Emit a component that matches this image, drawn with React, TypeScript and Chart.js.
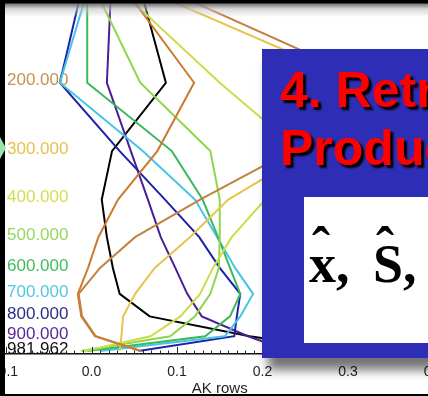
import React, { useEffect, useRef } from "react";
import { Chart, registerables } from "chart.js";

Chart.register(...registerables);

// Pressure levels (hPa) at which each averaging-kernel row is given
const levels = [100, 200, 300, 400, 500, 600, 700, 800, 900, 981.962];
// Labelled levels on the y axis and their colours
const tickLevels = [200, 300, 400, 500, 600, 700, 800, 900, 981.962];
const tickColors = ["#c8904c", "#e4c24a", "#d4dc52", "#92d862", "#3fbf5c", "#55c6e2", "#2b2b8c", "#5a2a98", "#111111"];
const xTicks = [-0.1, 0.0, 0.1, 0.2, 0.3, 0.4];

// AK rows (values at each level above)
const ak100 = [0.025, 0.33, 0.233, 0.127, 0.051, 0.01, -0.015, -0.011, 0.005, 0.058];
const ak200 = [0.019, 0.12, 0.077, 0.031, 0.008, -0.004, -0.016, -0.012, 0.004, 0.057];
const ak300 = [-0.002, 0.314, 0.255, 0.16, 0.115, 0.074, 0.051, 0.037, 0.035, 0.033];
const ak400 = [0.003, 0.15, 0.244, 0.203, 0.164, 0.142, 0.127, 0.104, 0.069, -0.008];
const ak500 = [-0.009, 0.057, 0.139, 0.15, 0.15, 0.149, 0.139, 0.121, 0.092, -0.012];
const ak600 = [-0.005, -0.005, 0.094, 0.13, 0.148, 0.162, 0.174, 0.162, 0.133, -0.005];
const ak700 = [0.004, -0.037, 0.06, 0.121, 0.147, 0.168, 0.189, 0.174, 0.156, 0.01];
const ak800 = [-0.005, -0.037, 0.033, 0.086, 0.126, 0.15, 0.174, 0.17, 0.167, 0.055];
const ak900 = [0.024, 0.018, 0.046, 0.066, 0.081, 0.098, 0.112, 0.129, 0.183, 0.232];
const akSfc = [0.05, 0.087, 0.024, 0.012, 0.018, 0.025, 0.033, 0.068, 0.185, 0.302];

const seriesRows = [ak100, ak300, ak200, ak400, ak500, ak600, ak700, ak800, ak900, akSfc];
const seriesColors = ["#c48040", "#e8c44a", "#cc7a30", "#cfdc48", "#8ed64a", "#3cb85a", "#45c4e6", "#1e22a6", "#4a1f96", "#000000"];

const SANS = "'Liberation Sans', Arial, Helvetica, sans-serif";
const SERIF = "'Liberation Serif', 'Times New Roman', serif";

const innerTicks = {
  id: "innerTicks",
  afterDatasetsDraw(chart: any) {
    const xs = chart.scales.x;
    const ctx = chart.ctx;
    const bottom = chart.chartArea.bottom;
    ctx.save();
    ctx.strokeStyle = "#222";
    ctx.lineWidth = 1;
    for (let i = -10; i <= 40; i++) {
      const px = Math.round(xs.getPixelForValue(i / 100)) + 0.5;
      const len = i % 10 === 0 ? 7 : 3.5;
      ctx.beginPath();
      ctx.moveTo(px, bottom);
      ctx.lineTo(px, bottom - len);
      ctx.stroke();
    }
    ctx.restore();
  },
};

export default function App() {
  const ref = useRef<HTMLCanvasElement | null>(null);

  useEffect(() => {
    if (!ref.current) return;
    const chart = new Chart(ref.current, {
      type: "line",
      data: {
        datasets: seriesRows.map((row, i) => ({
          data: row.map((v, j) => ({ x: v, y: levels[j] })),
          borderColor: seriesColors[i],
          backgroundColor: seriesColors[i],
          borderWidth: 2,
          pointRadius: 0,
          tension: 0,
          fill: false,
        })),
      },
      options: {
        animation: false,
        responsive: true,
        maintainAspectRatio: false,
        layout: { padding: { left: 6, right: 6.5, top: 0, bottom: 0 } },
        plugins: { legend: { display: false }, tooltip: { enabled: false } },
        scales: {
          x: {
            type: "linear",
            min: -0.1,
            max: 0.4,
            afterBuildTicks: (s: any) => {
              s.ticks = xTicks.map((v) => ({ value: v }));
            },
            afterFit: (s: any) => {
              s.height = 42;
              s.paddingLeft = 0;
              s.paddingRight = 0;
            },
            grid: { display: false, drawTicks: false },
            border: { display: true, color: "#111", width: 1.5 },
            ticks: {
              padding: 10,
              autoSkip: false,
              maxRotation: 0,
              color: "#222",
              font: { family: SANS, size: 14 },
              callback: (v: any) => Number(v).toFixed(1),
            },
            title: {
              display: true,
              text: "AK rows",
              color: "#222",
              font: { family: SANS, size: 15 },
              padding: { top: 0, bottom: -2 },
            },
          },
          y: {
            type: "logarithmic",
            reverse: true,
            min: 122.4,
            max: 1000,
            afterBuildTicks: (s: any) => {
              s.ticks = tickLevels.map((v) => ({ value: v }));
            },
            afterFit: (s: any) => {
              s.width = 0;
              s.paddingTop = 0;
              s.paddingBottom = 0;
            },
            grid: { display: false, drawTicks: false },
            border: { display: false },
            ticks: {
              mirror: true,
              padding: 1,
              labelOffset: -2,
              autoSkip: false,
              font: { family: SANS, size: 17 },
              color: (c: any) => tickColors[c.index] || "#111",
              callback: (v: any) => Number(v).toFixed(3),
            },
          },
        },
      },
      plugins: [innerTicks],
    } as any);
    return () => chart.destroy();
  }, []);

  return (
    <div style={{ position: "absolute", left: 0, top: 0, width: 428, height: 396, overflow: "hidden", background: "#fff" }}>
      <div style={{ position: "absolute", left: 0, top: 0, width: 440, height: 396 }}>
        <canvas ref={ref} />
      </div>
      {/* top black band with soft grey fade */}
      <div
        style={{
          position: "absolute", left: 0, top: 0, width: 428, height: 17,
          background: "linear-gradient(to bottom, #000 0px, #000 3px, rgba(110,110,110,0.92) 4px, rgba(190,190,190,0.6) 9px, rgba(255,255,255,0) 17px)",
        }}
      />
      {/* left black strip */}
      <div style={{ position: "absolute", left: 0, top: 0, width: 5, height: 396, background: "#000" }} />
      <div
        style={{
          position: "absolute", left: 0, top: 137, width: 6, height: 22, background: "#9be3a8",
          clipPath: "polygon(0 0, 100% 50%, 0 100%)",
        }}
      />
      {/* bottom black band */}
      <div style={{ position: "absolute", left: 0, top: 394, width: 428, height: 2, background: "#000" }} />
      {/* slide box */}
      <div
        style={{
          position: "absolute", left: 262, top: 49, width: 180, height: 309, background: "#2e2db5",
          boxShadow: "6px 12px 10px rgba(0,0,0,0.55)",
        }}
      >
        <div
          style={{
            position: "absolute", left: 18, top: 16, whiteSpace: "pre", fontFamily: SANS, fontWeight: "bold",
            fontSize: 50, lineHeight: "50px", color: "#ff0000", textShadow: "3px 3px 2px #000",
          }}
        >
          4. Retr
        </div>
        <div
          style={{
            position: "absolute", left: 18, top: 74, whiteSpace: "pre", fontFamily: SANS, fontWeight: "bold",
            fontSize: 50, lineHeight: "50px", color: "#ff0000", textShadow: "3px 3px 2px #000",
          }}
        >
          Produc
        </div>
        <div style={{ position: "absolute", left: 42, top: 148, width: 140, height: 146, background: "#fff" }}>
          <span style={{ position: "absolute", left: 5, top: 40, whiteSpace: "pre", fontFamily: SERIF, fontWeight: "bold", fontSize: 54, lineHeight: "54px", color: "#000" }}>x,</span>
          <span style={{ position: "absolute", left: 69, top: 40, whiteSpace: "pre", fontFamily: SERIF, fontWeight: "bold", fontSize: 54, lineHeight: "54px", color: "#000" }}>S,</span>
          <span style={{ position: "absolute", left: 8, top: 23, whiteSpace: "pre", fontFamily: SERIF, fontWeight: "bold", fontSize: 54, lineHeight: "54px", color: "#000" }}>ˆ</span>
          <span style={{ position: "absolute", left: 72, top: 23, whiteSpace: "pre", fontFamily: SERIF, fontWeight: "bold", fontSize: 54, lineHeight: "54px", color: "#000" }}>ˆ</span>
        </div>
      </div>
    </div>
  );
}
